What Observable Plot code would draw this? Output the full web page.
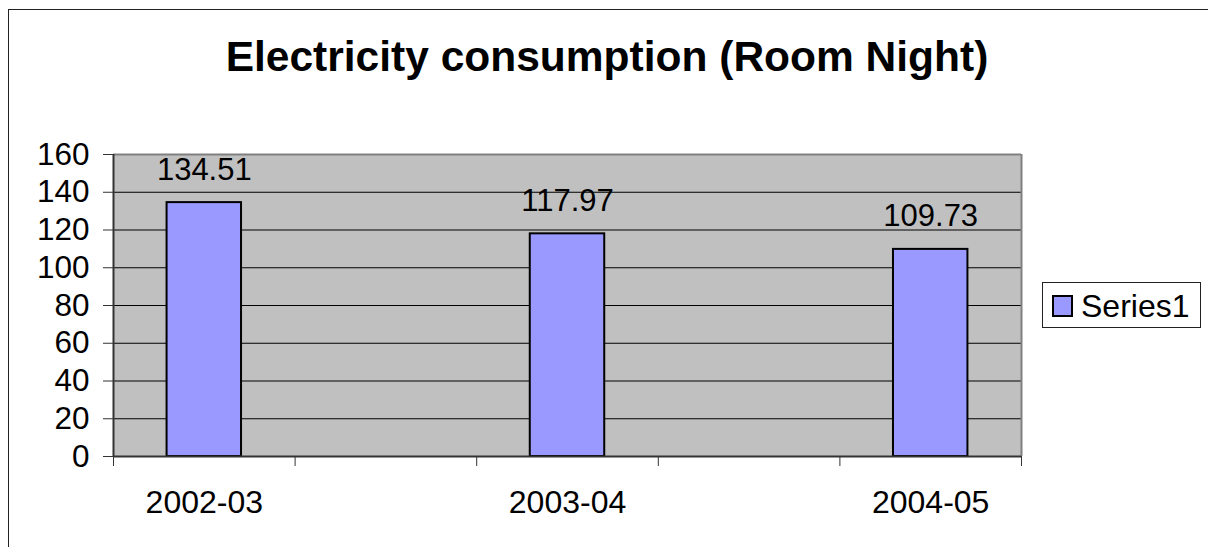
<!DOCTYPE html>
<html>
<head>
<meta charset="utf-8">
<script src="https://cdn.jsdelivr.net/npm/d3@7"></script>
<script src="https://cdn.jsdelivr.net/npm/@observablehq/plot@0.6"></script>
<style>
  html, body { margin: 0; padding: 0; background: #fff; overflow: hidden; }
  #wrap { position: relative; width: 1208px; height: 547px; overflow: hidden;
          font-family: Arial, "Liberation Sans", sans-serif; }
  #border { position: absolute; left: 8px; top: 9px; width: 1400px; height: 800px;
            border: 1.5px solid #222; box-sizing: border-box; }
  #title { position: absolute; left: 0; top: 36px; width: 1214px; text-align: center;
           font-size: 42.5px; line-height: 42.5px; font-weight: bold; color: #000; white-space: nowrap; }
  #chart { position: absolute; left: 0; top: 0; }
  #legend { position: absolute; left: 1042px; top: 282px; width: 159px; height: 46px;
            border: 1px solid #222; box-sizing: border-box; background: #fff; }
  #legend .sw { position: absolute; left: 9px; top: 12px; width: 21px; height: 22px;
                background: #9999FF; border: 2px solid #000; box-sizing: border-box; }
  #legend .lb { position: absolute; left: 38px; top: 7px; font-size: 32px; line-height: 32px; color: #000; white-space: nowrap; }
</style>
</head>
<body>
<div id="wrap">
  <div id="border"></div>
  <div id="chart"></div>
  <div id="title"></div>
  <div id="legend"><div class="sw"></div><div class="lb"></div></div>
</div>
<script>
// Excel category slots (blank categories between the years)
const allCategories = ["2002-03", "", "2003-04", "", "2004-05"];
const categories = ["2002-03", "2003-04", "2004-05"];
const values = [134.51, 117.97, 109.73];
const yTicks = [0, 20, 40, 60, 80, 100, 120, 140, 160];
const seriesName = "Series1";
const titleText = "Electricity consumption (Room Night)";

document.getElementById("title").textContent = titleText;
document.querySelector("#legend .lb").textContent = seriesName;

const data = categories.map((c, i) => ({
  category: c,
  value: values[i],
  slot: allCategories.indexOf(c)
}));
const slotEdges = d3.range(0, allCategories.length + 1);

const chart = Plot.plot({
  width: 1208,
  height: 547,
  marginLeft: 113,
  marginRight: 187,
  marginTop: 154,
  marginBottom: 91,
  style: { fontFamily: 'Arial, "Liberation Sans", sans-serif', background: "transparent", overflow: "visible" },
  x: { type: "linear", domain: [0, allCategories.length], axis: null },
  y: { domain: [0, 160], axis: null },
  marks: [
    Plot.frame({ fill: "#C0C0C0", stroke: "none" }),
    Plot.gridY(yTicks, { stroke: "#000", strokeOpacity: 1, strokeWidth: 1 }),
    Plot.rectY(data, {
      x1: d => d.slot + 0.295,
      x2: d => d.slot + 0.705,
      y1: 0,
      y2: "value",
      fill: "#9999FF",
      stroke: "#000",
      strokeWidth: 2
    }),
    Plot.ruleY([160], { stroke: "#808080", strokeWidth: 2 }),
    Plot.ruleX([allCategories.length], { stroke: "#808080", strokeWidth: 2 }),
    Plot.ruleY([0], { stroke: "#333", strokeWidth: 2 }),
    Plot.ruleX([0], { stroke: "#333", strokeWidth: 2 }),
    Plot.axisY({
      ticks: yTicks,
      tickSize: 10,
      tickPadding: 14,
      fontSize: 31.5,
      stroke: "#333",
      fill: "#000",
      label: null
    }),
    Plot.axisX({
      ticks: slotEdges,
      tickSize: 10,
      tickFormat: () => "",
      stroke: "#333",
      label: null
    }),
    Plot.text(data, {
      x: d => d.slot + 0.5,
      y: 0,
      text: "category",
      dy: 46,
      fontSize: 32,
      fill: "#000"
    }),
    Plot.text(data, {
      x: d => d.slot + 0.5,
      y: "value",
      text: d => d.value.toFixed(2),
      dy: -33,
      fontSize: 31,
      fill: "#000"
    })
  ]
});
document.getElementById("chart").appendChild(chart);
</script>
</body>
</html>
